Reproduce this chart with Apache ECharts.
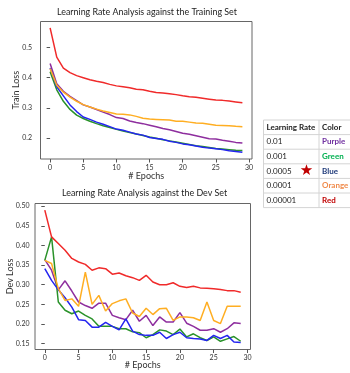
<!DOCTYPE html>
<html>
<head>
<meta charset="utf-8">
<script src="https://cdn.jsdelivr.net/npm/echarts@6/dist/echarts.min.js"></script>
<style>
	html, body { margin: 0; padding: 0; background: #fff; }
	#chart { width: 350px; height: 373px; }
</style>
</head>
<body>
<div id="chart"></div>
<script>
/**
 * 数据
 */
var epochs = [0, 1, 2, 3, 4, 5, 6, 7, 8, 9, 10, 11, 12, 13, 14, 15, 16, 17, 18, 19, 20, 21, 22, 23, 24, 25, 26, 27, 28, 29];
var xTicks = [0, 5, 10, 15, 20, 25, 30];
var trainTicks = [0.2, 0.3, 0.4, 0.5];
var devTicks = [0.15, 0.20, 0.25, 0.30, 0.35, 0.40, 0.45, 0.50];

// 训练集 loss
var trainPurple = [0.447, 0.380, 0.355, 0.338, 0.324, 0.310, 0.303, 0.295, 0.286, 0.278, 0.268, 0.265, 0.257, 0.252, 0.248, 0.243, 0.238, 0.232, 0.228, 0.222, 0.216, 0.213, 0.208, 0.203, 0.198, 0.197, 0.193, 0.190, 0.186, 0.184];
var trainGreen = [0.420, 0.360, 0.322, 0.295, 0.276, 0.265, 0.256, 0.248, 0.241, 0.235, 0.229, 0.224, 0.219, 0.214, 0.209, 0.204, 0.200, 0.195, 0.191, 0.187, 0.183, 0.179, 0.175, 0.172, 0.169, 0.166, 0.164, 0.162, 0.160, 0.159];
var trainBlue = [0.432, 0.370, 0.340, 0.310, 0.288, 0.270, 0.262, 0.253, 0.246, 0.238, 0.230, 0.226, 0.220, 0.214, 0.210, 0.202, 0.199, 0.196, 0.190, 0.186, 0.181, 0.178, 0.174, 0.170, 0.167, 0.165, 0.162, 0.158, 0.156, 0.153];
var trainOrange = [0.430, 0.375, 0.352, 0.336, 0.322, 0.311, 0.303, 0.296, 0.290, 0.285, 0.280, 0.279, 0.277, 0.272, 0.266, 0.263, 0.262, 0.261, 0.260, 0.256, 0.256, 0.253, 0.250, 0.249, 0.246, 0.243, 0.242, 0.241, 0.239, 0.238];
var trainRed = [0.565, 0.468, 0.432, 0.417, 0.407, 0.400, 0.393, 0.388, 0.384, 0.378, 0.373, 0.370, 0.367, 0.362, 0.360, 0.355, 0.351, 0.349, 0.347, 0.344, 0.340, 0.337, 0.335, 0.332, 0.329, 0.326, 0.325, 0.323, 0.320, 0.317];

// 验证集 loss
var devPurple = [0.364, 0.337, 0.287, 0.310, 0.284, 0.256, 0.247, 0.240, 0.253, 0.253, 0.222, 0.216, 0.211, 0.235, 0.207, 0.222, 0.196, 0.218, 0.205, 0.205, 0.229, 0.202, 0.194, 0.184, 0.184, 0.188, 0.179, 0.188, 0.203, 0.201];
var devGreen = [0.362, 0.422, 0.256, 0.235, 0.226, 0.233, 0.222, 0.213, 0.194, 0.194, 0.194, 0.188, 0.188, 0.180, 0.178, 0.165, 0.173, 0.185, 0.182, 0.173, 0.187, 0.167, 0.175, 0.165, 0.158, 0.167, 0.156, 0.162, 0.168, 0.156];
var devBlue = [0.341, 0.311, 0.287, 0.267, 0.243, 0.211, 0.209, 0.192, 0.192, 0.204, 0.194, 0.185, 0.213, 0.182, 0.173, 0.171, 0.171, 0.179, 0.163, 0.173, 0.179, 0.165, 0.163, 0.162, 0.158, 0.171, 0.163, 0.171, 0.154, 0.153];
var devOrange = [0.362, 0.354, 0.290, 0.260, 0.264, 0.245, 0.332, 0.250, 0.273, 0.233, 0.252, 0.259, 0.264, 0.228, 0.219, 0.240, 0.224, 0.239, 0.240, 0.209, 0.218, 0.218, 0.216, 0.209, 0.256, 0.209, 0.201, 0.245, 0.245, 0.245];
var devRed = [0.490, 0.422, 0.405, 0.388, 0.367, 0.358, 0.352, 0.337, 0.343, 0.341, 0.327, 0.330, 0.323, 0.318, 0.311, 0.324, 0.307, 0.300, 0.300, 0.305, 0.296, 0.293, 0.296, 0.292, 0.291, 0.290, 0.288, 0.285, 0.285, 0.281];

// 表格
var learningRates = ["0.01", "0.001", "0.0005", "0.0001", "0.00001"];
var colorNames = ["Purple", "Green", "Blue", "Orange", "Red"];
var bestRate = "0.0005";

/**
 * 样式
 */
var lineColors = ["#8e2e9e", "#2a922a", "#2424f0", "#ffae22", "#f02a2a"];
var tableTextColors = ["#7030a0", "#00b050", "#1f3a7a", "#f08a4a", "#c00000"];
var FONT = "Lato";

function toPairs(ys) {
	return ys.map(function(y, i) {
		return [epochs[i], y];
	});
}

function makeXAxis(gridIndex, gap) {
	return {
		type: "value",
		gridIndex: gridIndex,
		min: -1.45,
		max: 30.45,
		name: "# Epochs",
		nameLocation: "middle",
		nameGap: gap,
		nameMoveOverlap: false,
		nameTextStyle: { fontFamily: FONT, fontSize: 9, color: "#333" },
		axisLine: { show: false },
		axisTick: { show: true, customValues: xTicks, length: 3.5, lineStyle: { color: "#555" } },
		axisLabel: { customValues: xTicks, margin: 5, fontFamily: FONT, fontSize: 7, color: "#333" },
		splitLine: { show: false }
	};
}

function makeYAxis(gridIndex, min, max, ticks, name, digits, gap, margin) {
	return {
		type: "value",
		gridIndex: gridIndex,
		min: min,
		max: max,
		name: name,
		nameLocation: "middle",
		nameGap: gap,
		nameMoveOverlap: false,
		nameTextStyle: { fontFamily: FONT, fontSize: 9, color: "#333" },
		axisLine: { show: false },
		axisTick: { show: true, customValues: ticks, length: 3.5, lineStyle: { color: "#555" } },
		axisLabel: {
			customValues: ticks,
			margin: margin,
			fontFamily: FONT,
			fontSize: 7,
			color: "#333",
			formatter: function(v) {
				return v.toFixed(digits);
			}
		},
		splitLine: { show: false }
	};
}

function makeSeries(data, color, idx) {
	return {
		type: "line",
		xAxisIndex: idx,
		yAxisIndex: idx,
		data: toPairs(data),
		showSymbol: false,
		symbol: "none",
		silent: true,
		animation: false,
		lineStyle: { color: color, width: 1.5 }
	};
}

/**
 * 拼接表格
 */
function buildTable() {
	var left = 263.5, top = 120, rowH = 14.6, col2 = 319, right = 352;
	var els = [];
	var rows = learningRates.length + 1;
	// 背景
	els.push({
		type: "rect",
		shape: { x: left, y: top, width: right - left, height: rowH * rows },
		style: { fill: "#fff", stroke: "#d4d4d4", lineWidth: 1 }
	});
	for (var r = 1; r < rows; r++) {
		els.push({
			type: "line",
			shape: { x1: left, y1: top + rowH * r, x2: right, y2: top + rowH * r },
			style: { stroke: "#d4d4d4", lineWidth: 1 }
		});
	}
	els.push({
		type: "line",
		shape: { x1: col2, y1: top, x2: col2, y2: top + rowH * rows },
		style: { stroke: "#d4d4d4", lineWidth: 1 }
	});
	// 表头
	var head = ["Learning Rate", "Color"];
	[left + 3, col2 + 3].forEach(function(x, i) {
		els.push({
			type: "text",
			x: x,
			y: top + rowH / 2,
			style: { text: head[i], fill: "#222", font: "bold 8px " + FONT, textVerticalAlign: "middle" }
		});
	});
	// 行
	for (var i = 0; i < learningRates.length; i++) {
		var cy = top + rowH * (i + 1.5);
		els.push({
			type: "text",
			x: left + 3,
			y: cy,
			style: { text: learningRates[i], fill: "#222", font: "8px " + FONT, textVerticalAlign: "middle" }
		});
		els.push({
			type: "text",
			x: col2 + 3,
			y: cy,
			style: { text: colorNames[i], fill: tableTextColors[i], font: "bold 8px " + FONT, textVerticalAlign: "middle" }
		});
		if (learningRates[i] === bestRate) {
			els.push({
				type: "text",
				x: 306.5,
				y: cy,
				style: { text: "★", fill: "#c00000", font: "15px DejaVu Sans", textAlign: "center", textVerticalAlign: "middle" }
			});
		}
	}
	return els;
}

/**
 * 绘制图表
 */
function drawCharts() {
	var myChart = echarts.init(document.getElementById("chart"), null, { renderer: "canvas" });
	var trainSets = [trainPurple, trainGreen, trainBlue, trainOrange, trainRed];
	var devSets = [devPurple, devGreen, devBlue, devOrange, devRed];
	var series = [];
	trainSets.forEach(function(d, i) {
		series.push(makeSeries(d, lineColors[i], 0));
	});
	devSets.forEach(function(d, i) {
		series.push(makeSeries(d, lineColors[i], 1));
	});
	var option = {
		backgroundColor: "#fff",
		animation: false,
		title: [{
			text: "Learning Rate Analysis against the Training Set",
			left: 57,
			top: 8,
			padding: 0,
			textStyle: { fontFamily: FONT, fontSize: 8.9, fontWeight: "normal", color: "#222" }
		}, {
			text: "Learning Rate Analysis against the Dev Set",
			left: 62,
			top: 189,
			padding: 0,
			textStyle: { fontFamily: FONT, fontSize: 8.9, fontWeight: "normal", color: "#222" }
		}],
		grid: [{
			left: 40.5, top: 21.5, width: 211.5, height: 137.5,
			outerBoundsMode: "none", containLabel: false,
			show: true, borderColor: "#666", borderWidth: 1, backgroundColor: "#fff"
		}, {
			left: 35, top: 203.5, width: 215.5, height: 146,
			outerBoundsMode: "none", containLabel: false,
			show: true, borderColor: "#666", borderWidth: 1, backgroundColor: "#fff"
		}],
		xAxis: [makeXAxis(0, 12.5), makeXAxis(1, 11)],
		yAxis: [
			makeYAxis(0, 0.131, 0.586, trainTicks, "Train Loss", 1, 19.5, 8.5),
			makeYAxis(1, 0.135, 0.507, devTicks, "Dev Loss", 2, 20, 5.5)
		],
		series: series,
		graphic: buildTable()
	};
	myChart.setOption(option);
}

drawCharts();
</script>
</body>
</html>
